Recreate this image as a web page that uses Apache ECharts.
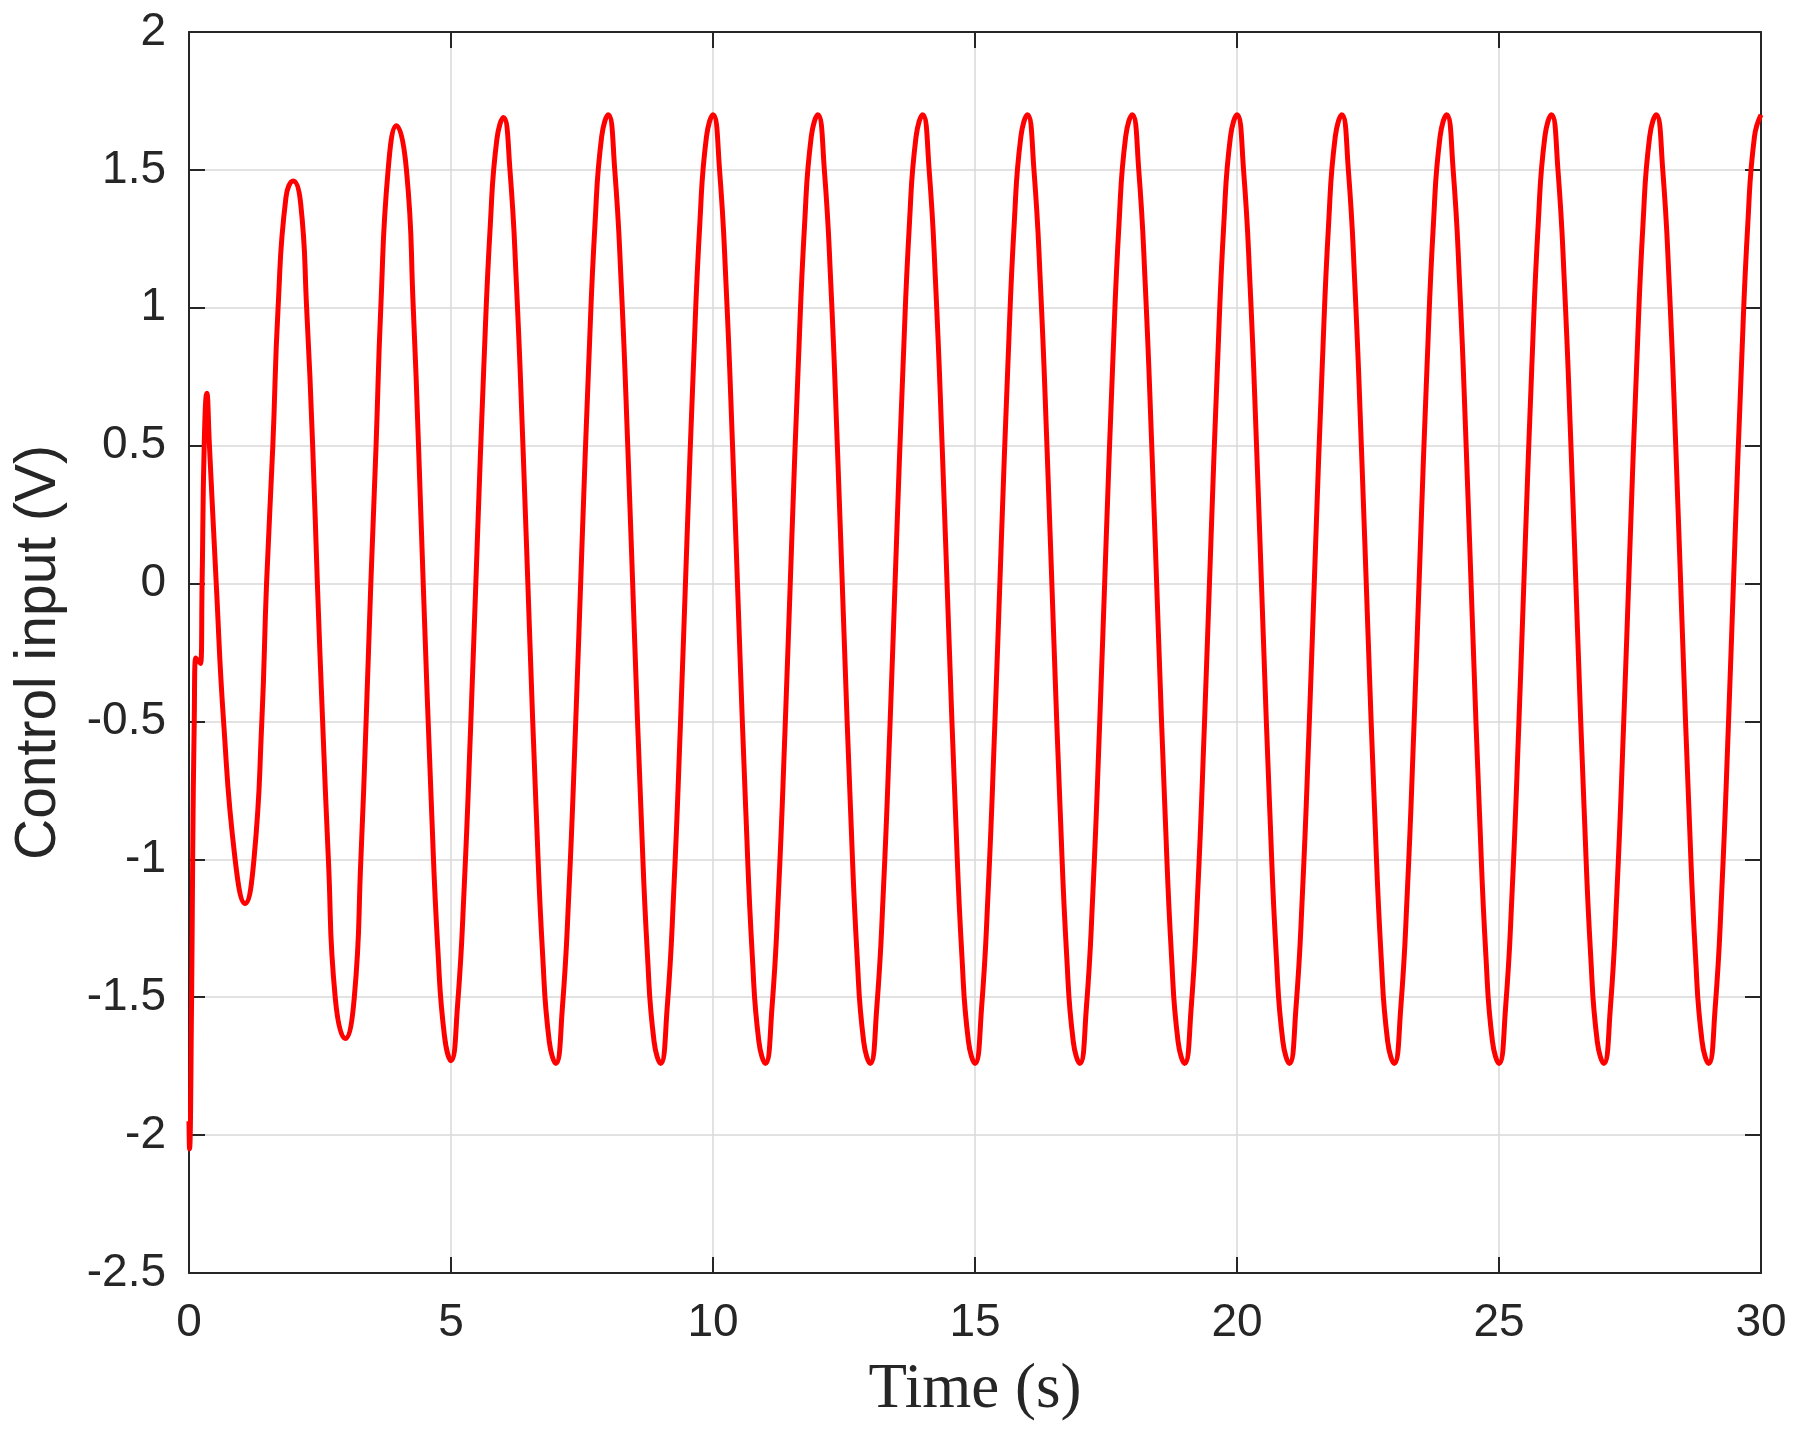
<!DOCTYPE html>
<html>
<head>
<meta charset="utf-8">
<title>Control input</title>
<script src="https://cdn.jsdelivr.net/npm/echarts@6/dist/echarts.min.js"></script>
<style>
    html, body { margin: 0; padding: 0; background: #ffffff; }
    #chart { width: 1795px; height: 1437px; }
</style>
</head>
<body>
<div id="chart"></div>
<script>
// time (s): start-up transient, then a 0.125 s grid
var timeS = [
    0, 0.01, 0.05, 0.07, 0.10, 0.13, 0.22, 0.25, 0.29, 0.34, 0.39, 0.52, 0.66, 0.88,
    1.07, 1.24, 1.39, 1.48, 1.60, 1.70, 1.85, 1.99, 2.13, 2.245, 2.36, 2.45, 2.55, 2.66, 2.79,
    2.98, 3.155, 3.28, 3.38, 3.47, 3.57, 3.66, 3.80, 3.96, 4.15, 4.28, 4.38, 4.47,
    4.625, 4.75, 4.875, 5, 5.125, 5.25, 5.375, 5.5, 5.625, 5.75, 5.875, 6,
    6.125, 6.25, 6.375, 6.5, 6.625, 6.75, 6.875, 7, 7.125, 7.25, 7.375, 7.5, 7.625, 7.75, 7.875, 8,
    8.125, 8.25, 8.375, 8.5, 8.625, 8.75, 8.875, 9, 9.125, 9.25, 9.375, 9.5, 9.625, 9.75, 9.875, 10,
    10.125, 10.25, 10.375, 10.5, 10.625, 10.75, 10.875, 11, 11.125, 11.25, 11.375, 11.5, 11.625, 11.75, 11.875, 12,
    12.125, 12.25, 12.375, 12.5, 12.625, 12.75, 12.875, 13, 13.125, 13.25, 13.375, 13.5, 13.625, 13.75, 13.875, 14,
    14.125, 14.25, 14.375, 14.5, 14.625, 14.75, 14.875, 15, 15.125, 15.25, 15.375, 15.5, 15.625, 15.75, 15.875, 16,
    16.125, 16.25, 16.375, 16.5, 16.625, 16.75, 16.875, 17, 17.125, 17.25, 17.375, 17.5, 17.625, 17.75, 17.875, 18,
    18.125, 18.25, 18.375, 18.5, 18.625, 18.75, 18.875, 19, 19.125, 19.25, 19.375, 19.5, 19.625, 19.75, 19.875, 20,
    20.125, 20.25, 20.375, 20.5, 20.625, 20.75, 20.875, 21, 21.125, 21.25, 21.375, 21.5, 21.625, 21.75, 21.875, 22,
    22.125, 22.25, 22.375, 22.5, 22.625, 22.75, 22.875, 23, 23.125, 23.25, 23.375, 23.5, 23.625, 23.75, 23.875, 24,
    24.125, 24.25, 24.375, 24.5, 24.625, 24.75, 24.875, 25, 25.125, 25.25, 25.375, 25.5, 25.625, 25.75, 25.875, 26,
    26.125, 26.25, 26.375, 26.5, 26.625, 26.75, 26.875, 27, 27.125, 27.25, 27.375, 27.5, 27.625, 27.75, 27.875, 28,
    28.125, 28.25, 28.375, 28.5, 28.625, 28.75, 28.875, 29, 29.125, 29.25, 29.375, 29.5, 29.625, 29.75, 29.875, 30
];

// control input (V)
var inputV = [
    -1.95, -2.05, -1.5, -1.0, -0.5, -0.27, -0.29, 0.0, 0.5, 0.69, 0.5, 0.0, -0.5, -1.0,
    -1.16, -1.0, -0.5, 0.0, 0.5, 1.0, 1.40, 1.46, 1.38, 1.0, 0.5, 0.0, -0.5, -1.0, -1.5,
    -1.65, -1.5, -1.0, -0.5, 0.0, 0.5, 1.0, 1.5, 1.66, 1.5, 1.0, 0.5, 0.0,
    -0.80, -1.33, -1.64, -1.73, -1.53, -1.11, -0.52, 0.14, 0.78, 1.30, 1.61, 1.69,
    1.50, 1.08, 0.49, -0.18, -0.82, -1.35, -1.66, -1.74, -1.54, -1.12, -0.53, 0.14, 0.78, 1.31, 1.62, 1.70,
    1.50, 1.08, 0.49, -0.18, -0.82, -1.35, -1.66, -1.74, -1.54, -1.12, -0.53, 0.14, 0.78, 1.31, 1.62, 1.70,
    1.50, 1.08, 0.49, -0.18, -0.82, -1.35, -1.66, -1.74, -1.54, -1.12, -0.53, 0.14, 0.78, 1.31, 1.62, 1.70,
    1.50, 1.08, 0.49, -0.18, -0.82, -1.35, -1.66, -1.74, -1.54, -1.12, -0.53, 0.14, 0.78, 1.31, 1.62, 1.70,
    1.50, 1.08, 0.49, -0.18, -0.82, -1.35, -1.66, -1.74, -1.54, -1.12, -0.53, 0.14, 0.78, 1.31, 1.62, 1.70,
    1.50, 1.08, 0.49, -0.18, -0.82, -1.35, -1.66, -1.74, -1.54, -1.12, -0.53, 0.14, 0.78, 1.31, 1.62, 1.70,
    1.50, 1.08, 0.49, -0.18, -0.82, -1.35, -1.66, -1.74, -1.54, -1.12, -0.53, 0.14, 0.78, 1.31, 1.62, 1.70,
    1.50, 1.08, 0.49, -0.18, -0.82, -1.35, -1.66, -1.74, -1.54, -1.12, -0.53, 0.14, 0.78, 1.31, 1.62, 1.70,
    1.50, 1.08, 0.49, -0.18, -0.82, -1.35, -1.66, -1.74, -1.54, -1.12, -0.53, 0.14, 0.78, 1.31, 1.62, 1.70,
    1.50, 1.08, 0.49, -0.18, -0.82, -1.35, -1.66, -1.74, -1.54, -1.12, -0.53, 0.14, 0.78, 1.31, 1.62, 1.70,
    1.50, 1.08, 0.49, -0.18, -0.82, -1.35, -1.66, -1.74, -1.54, -1.12, -0.53, 0.14, 0.78, 1.31, 1.62, 1.70,
    1.50, 1.08, 0.49, -0.18, -0.82, -1.35, -1.66, -1.74, -1.54, -1.12, -0.53, 0.14, 0.78, 1.31, 1.62, 1.70
];

var xTicks = [0, 30, 5];      // min, max, step
var yTicks = [-2.5, 2, 0.5];

var ink = '#262626';
var gridGray = '#d9d9d9';

var seriesData = [];
for (var i = 0; i < timeS.length; i++) {
    seriesData.push([timeS[i], inputV[i]]);
}

var chart = echarts.init(document.getElementById('chart'));

var tickStyle = { show: true, inside: true, length: 16, lineStyle: { color: ink, width: 2 } };
var lineStyle = { show: true, onZero: false, lineStyle: { color: ink, width: 2 } };

chart.setOption({
    animation: false,
    backgroundColor: '#ffffff',
    grid: { left: 189, right: 34, top: 32, bottom: 164, containLabel: false },
    xAxis: [{
        type: 'value',
        position: 'bottom',
        min: xTicks[0], max: xTicks[1], interval: xTicks[2],
        axisLine: lineStyle,
        axisTick: tickStyle,
        axisLabel: { color: ink, fontSize: 46, fontFamily: 'Liberation Sans, Arial, sans-serif', margin: 27 },
        splitLine: { show: true, lineStyle: { color: gridGray, width: 1.5 } },
        name: 'Time (s)',
        nameLocation: 'middle',
        nameGap: 86,
        nameTextStyle: { color: ink, fontSize: 63, fontFamily: 'Liberation Serif, Times New Roman, serif' }
    }, {
        type: 'value',
        position: 'top',
        min: xTicks[0], max: xTicks[1], interval: xTicks[2],
        axisLine: lineStyle,
        axisTick: tickStyle,
        axisLabel: { show: false },
        splitLine: { show: false }
    }],
    yAxis: [{
        type: 'value',
        position: 'left',
        min: yTicks[0], max: yTicks[1], interval: yTicks[2],
        axisLine: lineStyle,
        axisTick: tickStyle,
        axisLabel: { color: ink, fontSize: 46, fontFamily: 'Liberation Sans, Arial, sans-serif', margin: 23 },
        splitLine: { show: true, lineStyle: { color: gridGray, width: 1.5 } },
        name: 'Control input (V)',
        nameLocation: 'middle',
        nameGap: 121,
        nameRotate: 90,
        nameTextStyle: { color: ink, fontSize: 57, fontFamily: 'Liberation Sans, Arial, sans-serif' }
    }, {
        type: 'value',
        position: 'right',
        min: yTicks[0], max: yTicks[1], interval: yTicks[2],
        axisLine: lineStyle,
        axisTick: tickStyle,
        axisLabel: { show: false },
        splitLine: { show: false }
    }],
    series: [{
        name: 'Control input',
        type: 'line',
        xAxisIndex: 0,
        yAxisIndex: 0,
        data: seriesData,
        smooth: 0.5,
        showSymbol: false,
        lineStyle: { color: '#ff0000', width: 5, join: 'round' },
        clip: true
    }]
});
</script>
</body>
</html>
